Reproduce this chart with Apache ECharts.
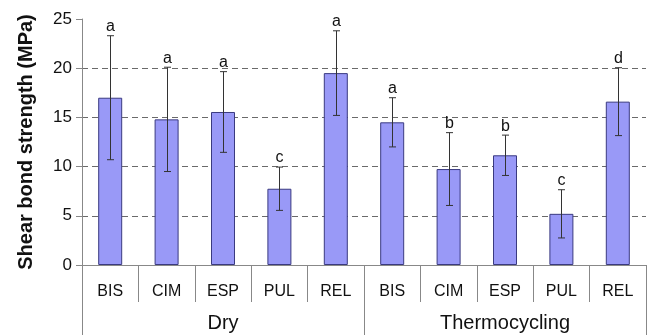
<!DOCTYPE html>
<html>
<head>
<meta charset="utf-8">
<script src="https://cdn.jsdelivr.net/npm/echarts@6/dist/echarts.min.js"></script>
<style>
html,body{margin:0;padding:0;background:#fff;}
#c{width:648px;height:335px;}
</style>
</head>
<body>
<div id="c"></div>
<script>
var categories = ['BIS','CIM','ESP','PUL','REL','BIS','CIM','ESP','PUL','REL'];
var groups = ['Dry','Thermocycling'];
var means = [17.0, 14.8, 15.55, 7.75, 19.5, 14.5, 9.75, 11.15, 5.2, 16.6];
var sds = [6.3, 5.3, 4.1, 2.2, 4.3, 2.5, 3.7, 2.05, 2.45, 3.45];
var letters = ['a','a','a','c','a','a','b','b','c','d'];
var yTicks = [0, 5, 10, 15, 20, 25];

var FONT = '"Liberation Sans", Arial, sans-serif';
var chart = echarts.init(document.getElementById('c'), null, {renderer:'canvas'});

var errData = means.map(function(m, i){ return [i, m - sds[i], m + sds[i], letters[i]]; });

chart.setOption({
  animation: false,
  backgroundColor: '#fff',
  grid: {left: 82, right: 2, top: 19, bottom: 70, containLabel: false},
  xAxis: [{
    type: 'category',
    data: categories,
    position: 'bottom',
    axisLine: {show: true, lineStyle: {color: '#888', width: 1}},
    axisTick: {show: true, interval: 0, length: 37, lineStyle: {color: '#888', width: 1}},
    axisLabel: {interval: 0, color: '#111', fontFamily: FONT, fontSize: 16, margin: 19},
    splitLine: {show: false}
  }, {
    type: 'category',
    data: groups,
    position: 'bottom',
    axisLine: {show: false},
    axisTick: {show: true, interval: 0, length: 70, lineStyle: {color: '#888', width: 1}},
    axisLabel: {color: '#111', fontFamily: FONT, fontSize: 20, margin: 48},
    splitLine: {show: false}
  }],
  yAxis: {
    type: 'value',
    min: yTicks[0], max: yTicks[yTicks.length - 1], interval: 5,
    name: 'Shear bond strength (MPa)',
    nameLocation: 'middle',
    nameGap: 46,
    nameTextStyle: {fontFamily: FONT, fontSize: 20, fontWeight: 'bold', color: '#111'},
    axisLine: {show: true, lineStyle: {color: '#888', width: 1}},
    axisTick: {show: true, length: 6, lineStyle: {color: '#888'}},
    axisLabel: {color: '#111', fontFamily: FONT, fontSize: 17, margin: 10},
    splitLine: {show: true, showMinLine: false, showMaxLine: false, lineStyle: {color: '#6a6a6a', type: [6, 4], width: 1}}
  },
  series: [{
    type: 'bar',
    data: means,
    barWidth: 24,
    itemStyle: {color: '#9999f7', borderColor: '#3a3a80', borderWidth: 1},
    z: 2
  }, {
    type: 'custom',
    data: errData,
    z: 3,
    renderItem: function(params, api){
      var x = api.value(0);
      var lo = api.coord([x, api.value(1)]);
      var hi = api.coord([x, api.value(2)]);
      var cx = Math.round(lo[0]) + 0.5;
      var half = 3.5;
      var st = {stroke: '#333', lineWidth: 1};
      return {
        type: 'group',
        children: [
          {type: 'line', shape: {x1: cx, y1: lo[1], x2: cx, y2: hi[1]}, style: st},
          {type: 'line', shape: {x1: cx - half, y1: lo[1], x2: cx + half, y2: lo[1]}, style: st},
          {type: 'line', shape: {x1: cx - half, y1: hi[1], x2: cx + half, y2: hi[1]}, style: st},
          {type: 'text', x: cx, y: hi[1] - 1, style: {text: api.value(3), fill: '#111', font: '16px ' + FONT, textAlign: 'center', textVerticalAlign: 'bottom'}}
        ]
      };
    }
  }]
});
</script>
</body>
</html>
